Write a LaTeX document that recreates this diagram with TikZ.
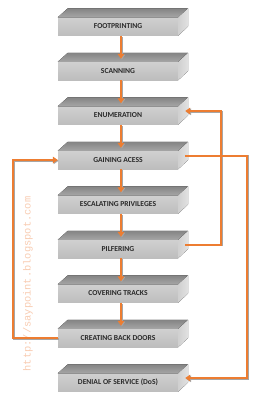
\documentclass[tikz,border=0pt]{standalone}
\usepackage{fontspec}
\setmainfont{Carlito}
\setmonofont{Liberation Mono}
\usetikzlibrary{arrows.meta,calc}
\definecolor{org}{HTML}{ED7D31}
\definecolor{wmc}{RGB}{248,204,178}
\definecolor{frontA}{HTML}{D0D0D0}
\definecolor{frontB}{HTML}{BDBDBD}
\definecolor{topA}{HTML}{848484}
\definecolor{topB}{HTML}{A6A6A6}
\definecolor{sideA}{HTML}{E2E2E2}
\definecolor{sideB}{HTML}{D0D0D0}
\definecolor{txt}{HTML}{2A2A2A}
\begin{document}
\begin{tikzpicture}[x=1pt,y=-1pt]
\useasboundingbox (0,0) rectangle (261,400);
\tikzset{
  stepbox/.style={minimum width=120pt, minimum height=18pt, inner sep=0pt,
    font=\bfseries\fontsize{7.6}{8}\selectfont, text=txt,
    top color=frontA, bottom color=frontB, draw=none},
  topface/.style={top color=topA, bottom color=topB},
  sideface/.style={left color=sideB, right color=sideA},
  flow/.style={draw=org, line width=2pt, -{Triangle[width=6.5pt,length=5pt]},
    preaction={draw=black!35, line width=2pt, transform canvas={xshift=0.8pt,yshift=-0.8pt}}},
  wmark/.style={rotate=90, text=wmc, font=\ttfamily\fontsize{10.4}{11}\selectfont, inner sep=0pt}
}
\node[wmark] (wm) at (28,284) {http://saypoint.blogspot.com};
\foreach \n/\t [count=\i from 0] in {fp/FOOTPRINTING, sc/SCANNING, en/ENUMERATION,
   ga/GAINING ACESS, ep/ESCALATING PRIVILEGES, pf/PILFERING, ct/COVERING TRACKS,
   cb/CREATING BACK DOORS, ds/{DENIAL OF SERVICE (DoS)}} {
  \node[stepbox] (\n) at (118, 26.5+44.5*\i) {\t};
  \fill[topface] (\n.north west) -- ++(10,-9) -- ++(120,0) -- (\n.north east) -- cycle;
  \fill[sideface] (\n.north east) -- ++(10,-9) -- ++(0,18) -- (\n.south east) -- cycle;
  \coordinate (\n R) at ($(\n.east)+(7,-4.5)$);
}
\foreach \a/\b in {fp/sc, sc/en, en/ga, ga/ep, ep/pf, pf/ct, ct/cb} {
  \draw[flow] ([xshift=3pt]\a.south) -- ([xshift=3pt,yshift=3pt]\b.north);
}
\draw[flow] (pfR) -- ++(36,0) |- (enR);
\draw[flow] (gaR) -- ++(62,0) |- (dsR);
\draw[flow] (cb.west) -- ++(-45,0) |- (ga.west);
\end{tikzpicture}
\end{document}
